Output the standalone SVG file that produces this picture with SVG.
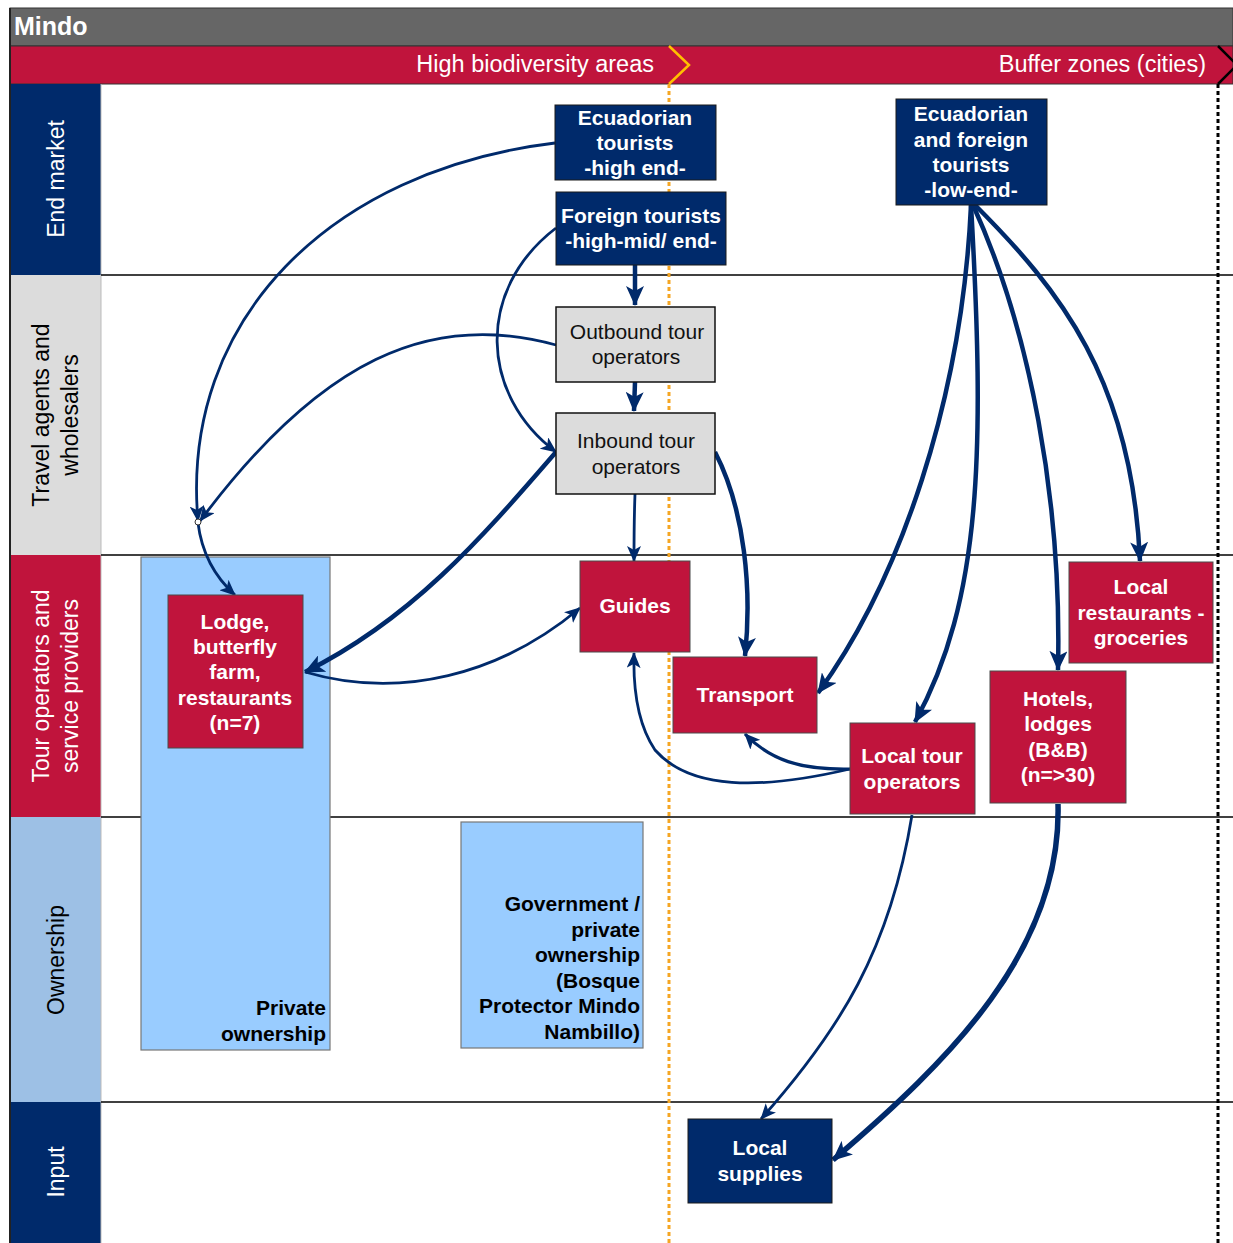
<svg xmlns="http://www.w3.org/2000/svg" width="1233" height="1243" viewBox="0 0 1233 1243">
<style>
text{font-family:"Liberation Sans",Arial,sans-serif}
.lane{font-size:23px;text-anchor:middle;dominant-baseline:central}
.w{fill:#fff}
.k{fill:#000}
.nb{font-size:21px;font-weight:bold;fill:#fff;text-anchor:middle;dominant-baseline:central}
.ng{font-size:21px;fill:#111;text-anchor:middle;dominant-baseline:central}
.ob{font-size:21px;font-weight:bold;fill:#000;text-anchor:end;dominant-baseline:central}
.navy{fill:#002A6B;stroke:#1a1a1a;stroke-width:1}
.red{fill:#C0143C;stroke:#4a4a4a;stroke-width:1}
.gray{fill:#DCDCDC;stroke:#111;stroke-width:1.5}
.own{fill:#99CCFF;stroke:#777;stroke-width:1.2}
.c{fill:none;stroke:#002A6B}
.t2{stroke-width:2.8;marker-end:url(#ah)}
.t4{stroke-width:4.5;marker-end:url(#ahb)}
.grid{stroke:#000;stroke-width:1.5}
.hdr{font-size:23.5px;fill:#fff;text-anchor:end;dominant-baseline:central}
</style>
<defs>
<marker id="ah" markerUnits="userSpaceOnUse" markerWidth="16" markerHeight="14" viewBox="0 0 16 14" refX="15" refY="7" orient="auto">
<path d="M0,0 L16,7 L0,14 L4,7 z" fill="#002A6B"/>
</marker>
<marker id="ahb" markerUnits="userSpaceOnUse" markerWidth="20" markerHeight="18" viewBox="0 0 20 18" refX="19" refY="9" orient="auto">
<path d="M0,0 L20,9 L0,18 L5,9 z" fill="#002A6B"/>
</marker>
</defs>
<rect x="0" y="0" width="1233" height="1243" fill="#fff"/>
<g id="frame">
<rect x="10" y="8" width="1223" height="38" fill="#666666" stroke="#333" stroke-width="1"/>
<text x="14" y="26" font-size="25" font-weight="bold" fill="#fff" dominant-baseline="central">Mindo</text>
<rect x="10" y="46" width="1223" height="38" fill="#C0143C" stroke="#333" stroke-width="1"/>
<text class="hdr" x="654" y="64">High biodiversity areas</text>
<text class="hdr" x="1206" y="64">Buffer zones (cities)</text>
<polyline points="669,46 689,65 669,84" fill="none" stroke="#FFC000" stroke-width="2.5"/>
<polyline points="1218,46 1237,65 1218,84" fill="none" stroke="#000" stroke-width="2.5"/>
<rect x="10" y="84" width="91" height="191" fill="#002A6B"/>
<rect x="10" y="275" width="91" height="280" fill="#DCDCDC"/>
<rect x="10" y="555" width="91" height="262" fill="#C0143C"/>
<rect x="10" y="817" width="91" height="285" fill="#9DC0E5"/>
<rect x="10" y="1102" width="91" height="141" fill="#002A6B"/>
<line x1="10" y1="8" x2="10" y2="1243" stroke="#222" stroke-width="2"/>
<line x1="101" y1="84" x2="101" y2="1243" stroke="#bbb" stroke-width="1"/>
<line class="grid" x1="101" y1="275" x2="1233" y2="275"/>
<line class="grid" x1="101" y1="555" x2="1233" y2="555"/>
<line class="grid" x1="101" y1="817" x2="1233" y2="817"/>
<line class="grid" x1="101" y1="1102" x2="1233" y2="1102"/>
<line x1="669" y1="84" x2="669" y2="1243" stroke="#F5A623" stroke-width="3" stroke-dasharray="4,3"/>
<line x1="1218" y1="84" x2="1218" y2="1243" stroke="#000" stroke-width="3" stroke-dasharray="4,3"/>
<text class="lane w" transform="translate(56,179) rotate(-90)">End market</text>
<text class="lane k" transform="translate(41,415) rotate(-90)">Travel agents and</text>
<text class="lane k" transform="translate(70,415) rotate(-90)">wholesalers</text>
<text class="lane w" transform="translate(41,686) rotate(-90)">Tour operators and</text>
<text class="lane w" transform="translate(70,686) rotate(-90)">service providers</text>
<text class="lane k" transform="translate(56,960) rotate(-90)">Ownership</text>
<text class="lane w" transform="translate(56,1172) rotate(-90)">Input</text>
</g>
<g id="ownership-private">
<rect class="own" x="141" y="557" width="189" height="493"/>
<text class="ob" x="326" y="1007">Private</text>
<text class="ob" x="326" y="1033">ownership</text>
</g>
<g id="ownership-government">
<rect class="own" x="461" y="822" width="182" height="226"/>
<text class="ob" x="640" y="903">Government /</text>
<text class="ob" x="640" y="929">private</text>
<text class="ob" x="640" y="954">ownership</text>
<text class="ob" x="640" y="980">(Bosque</text>
<text class="ob" x="640" y="1005">Protector Mindo</text>
<text class="ob" x="640" y="1031">Nambillo)</text>
</g>
<g id="connectors">
<path class="c t2" d="M555,143 C330,170 180,320 198,521"/>
<path class="c t2" d="M556,345 C430,310 320,360 200,521"/>
<path class="c t2" d="M198,523 C202,555 215,577 235,595"/>
<circle cx="198" cy="522" r="3" fill="#fff" stroke="#333" stroke-width="1"/>
<path class="c t2" d="M556,228 C475,290 480,395 556,452"/>
<path class="c t4" d="M635,265 L635,305"/>
<path class="c t4" d="M635,382 L634,411"/>
<path class="c t4" d="M556,452 C480,540 410,620 305,672"/>
<path class="c t2" d="M305,672 C400,700 500,675 580,608"/>
<path class="c t2" d="M635,494 C634,520 634,540 634,561"/>
<path class="c t4" d="M715,452 C745,510 752,590 745,656"/>
<path class="c" stroke-width="3.2" marker-end="url(#ah)" d="M850,769 C800,770 770,760 745,734"/>
<path class="c t2" d="M850,769 C760,790 690,790 655,750 C638,725 633,690 634,653"/>
<path class="c t4" d="M971,205 C962,400 900,580 818,693"/>
<path class="c t4" d="M971,205 C985,450 982,600 915,722"/>
<path class="c t4" d="M973,205 C1030,330 1062,500 1058,670"/>
<path class="c t4" d="M975,205 C1060,290 1132,380 1140,561"/>
<path class="c t2" d="M912,815 C890,950 840,1030 761,1119"/>
<path class="c" stroke-width="5.5" marker-end="url(#ahb)" d="M1058,804 C1062,950 950,1060 833,1160"/>
</g>
<g id="node-ecuadorian-high">
<rect class="navy" x="555" y="105" width="161" height="75"/>
<text class="nb" x="635" y="117">Ecuadorian</text>
<text class="nb" x="635" y="142">tourists</text>
<text class="nb" x="635" y="167">-high end-</text>
</g>
<g id="node-foreign-high">
<rect class="navy" x="556" y="192" width="170" height="73"/>
<text class="nb" x="641" y="215">Foreign tourists</text>
<text class="nb" x="641" y="240">-high-mid/ end-</text>
</g>
<g id="node-low-end">
<rect class="navy" x="896" y="99" width="151" height="106"/>
<text class="nb" x="971" y="113">Ecuadorian</text>
<text class="nb" x="971" y="139">and foreign</text>
<text class="nb" x="971" y="164">tourists</text>
<text class="nb" x="971" y="189">-low-end-</text>
</g>
<g id="node-outbound">
<rect class="gray" x="556" y="307" width="159" height="75"/>
<text class="ng" x="637" y="331">Outbound tour</text>
<text class="ng" x="636" y="356">operators</text>
</g>
<g id="node-inbound">
<rect class="gray" x="556" y="413" width="159" height="81"/>
<text class="ng" x="636" y="440">Inbound tour</text>
<text class="ng" x="636" y="466">operators</text>
</g>
<g id="node-lodge">
<rect class="red" x="168" y="595" width="135" height="153"/>
<text class="nb" x="235" y="621">Lodge,</text>
<text class="nb" x="235" y="646">butterfly</text>
<text class="nb" x="235" y="671">farm,</text>
<text class="nb" x="235" y="697">restaurants</text>
<text class="nb" x="235" y="722">(n=7)</text>
</g>
<g id="node-guides">
<rect class="red" x="580" y="561" width="110" height="91"/>
<text class="nb" x="635" y="605">Guides</text>
</g>
<g id="node-transport">
<rect class="red" x="673" y="657" width="144" height="76"/>
<text class="nb" x="745" y="694">Transport</text>
</g>
<g id="node-local-tour-operators">
<rect class="red" x="850" y="723" width="125" height="91"/>
<text class="nb" x="912" y="755">Local tour</text>
<text class="nb" x="912" y="781">operators</text>
</g>
<g id="node-hotels">
<rect class="red" x="990" y="671" width="136" height="132"/>
<text class="nb" x="1058" y="698">Hotels,</text>
<text class="nb" x="1058" y="723">lodges</text>
<text class="nb" x="1058" y="749">(B&amp;B)</text>
<text class="nb" x="1058" y="774">(n=&gt;30)</text>
</g>
<g id="node-local-restaurants">
<rect class="red" x="1069" y="562" width="144" height="101"/>
<text class="nb" x="1141" y="586">Local</text>
<text class="nb" x="1141" y="612">restaurants -</text>
<text class="nb" x="1141" y="637">groceries</text>
</g>
<g id="node-local-supplies">
<rect class="navy" x="688" y="1119" width="144" height="84"/>
<text class="nb" x="760" y="1147">Local</text>
<text class="nb" x="760" y="1173">supplies</text>
</g>
</svg>
